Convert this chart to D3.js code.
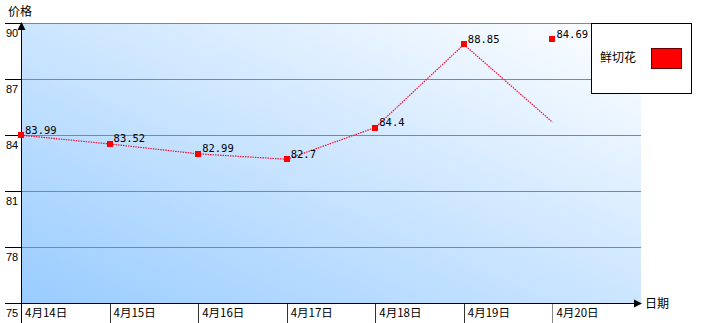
<!DOCTYPE html>
<html><head><meta charset="utf-8">
<script src="https://cdn.jsdelivr.net/npm/d3@7"></script>
<style>html,body{margin:0;padding:0;background:#fff;}svg{display:block;}</style>
</head><body>
<script>
const categories = ["4月14日","4月15日","4月16日","4月17日","4月18日","4月19日","4月20日"];
const values = [83.99, 83.52, 82.99, 82.7, 84.4, 88.85, 84.69];
// marker positions as drawn in the reference (last marker is displaced upward in the original)
const markerValues = [83.99, 83.52, 82.99, 82.7, 84.4, 88.85, 89.14];
const yTicks = [75, 78, 81, 84, 87, 90];
const seriesName = "鲜切花";
const yTitle = "价格", xTitle = "日期";

const W = 709, H = 323;
const L = 21, R = 641, T = 23, B = 303;
const svg = d3.select("body").append("svg").attr("width", W).attr("height", H);
const cjk = "'Noto Sans CJK SC', sans-serif";
const mono = "'DejaVu Sans Mono', monospace";

const x = d3.scaleBand().domain(categories).range([L, R]).padding(0);
const y = d3.scaleLinear().domain([75, 90]).range([B, T]);

const defs = svg.append("defs");
const g = defs.append("linearGradient").attr("id", "bg")
  .attr("x1", 0).attr("y1", 1).attr("x2", 1).attr("y2", 0);
g.append("stop").attr("offset", 0).attr("stop-color", "#99ccff");
g.append("stop").attr("offset", 1).attr("stop-color", "#ffffff");

svg.append("rect").attr("x", L).attr("y", T).attr("width", R - L).attr("height", B - T)
  .attr("fill", "url(#bg)");

// grid lines
svg.append("g").selectAll("line").data(yTicks.filter(v => v > 75)).join("line")
  .attr("x1", L).attr("x2", R).attr("y1", d => Math.round(y(d)) + 0.5).attr("y2", d => Math.round(y(d)) + 0.5)
  .attr("stroke", "#5b8fcc").attr("stroke-width", 1);

// y ticks + labels
const yt = svg.append("g");
yt.selectAll("line").data(yTicks).join("line")
  .attr("x1", 5).attr("x2", L).attr("y1", d => Math.round(y(d)) + 0.5).attr("y2", d => Math.round(y(d)) + 0.5)
  .attr("stroke", "#000");
yt.selectAll("text").data(yTicks).join("text")
  .attr("x", 6).attr("y", d => y(d) + 13.5)
  .attr("font-family", "'Liberation Sans', Arial, sans-serif").attr("font-size", 11).attr("fill", "#000")
  .text(d => d);

// x ticks + labels
const xt = svg.append("g");
xt.selectAll("line").data(categories.slice(1)).join("line")
  .attr("x1", d => Math.round(x(d)) + 0.5).attr("x2", d => Math.round(x(d)) + 0.5)
  .attr("y1", B).attr("y2", H)
  .attr("stroke", (d, i) => i === categories.length - 2 ? "#888" : "#333");
xt.selectAll("text").data(categories).join("text")
  .attr("x", d => x(d) + 4).attr("y", 317)
  .attr("font-family", cjk).attr("font-size", 11.5).attr("fill", "#000")
  .text(d => d);

// axes
svg.append("line").attr("x1", L + 0.5).attr("x2", L + 0.5).attr("y1", T + 3).attr("y2", H).attr("stroke", "#000");
svg.append("line").attr("x1", L).attr("x2", R - 5).attr("y1", B + 0.5).attr("y2", B + 0.5).attr("stroke", "#000");
svg.append("path").attr("d", `M${L + 0.5},${T - 1} L${L + 4.5},${T + 7} L${L - 3.5},${T + 7} Z`).attr("fill", "#000");
svg.append("path").attr("d", `M${R + 1},${B + 0.5} L${R - 7},${B - 3.5} L${R - 7},${B + 4.5} Z`).attr("fill", "#000");

svg.append("text").attr("x", 8).attr("y", 16).attr("font-family", cjk).attr("font-size", 12).text(yTitle);
svg.append("text").attr("x", 645).attr("y", 308).attr("font-family", cjk).attr("font-size", 12).text(xTitle);

// series line
const line = d3.line().x((d, i) => x(categories[i])).y(d => y(d));
svg.append("path").datum(values).attr("d", line)
  .attr("fill", "none").attr("stroke", "#ee1133").attr("stroke-width", 1.2)
  .attr("stroke-dasharray", "1.5,1");

// markers
svg.append("g").selectAll("rect").data(markerValues).join("rect")
  .attr("x", (d, i) => Math.round(x(categories[i])) - 3)
  .attr("y", d => Math.round(y(d)) - 3)
  .attr("width", 6).attr("height", 6).attr("fill", "#ff0000");

// value labels
svg.append("g").selectAll("text").data(values).join("text")
  .attr("x", (d, i) => x(categories[i]) + 4)
  .attr("y", (d, i) => y(markerValues[i]) - 1.5)
  .attr("font-family", mono).attr("font-size", 10.5).attr("fill", "#000")
  .text(d => d);

// legend
const lg = svg.append("g");
lg.append("rect").attr("x", 591.5).attr("y", 23.5).attr("width", 100).attr("height", 70)
  .attr("fill", "#fff").attr("stroke", "#000");
lg.append("text").attr("x", 600).attr("y", 62).attr("font-family", cjk).attr("font-size", 12).text(seriesName);
lg.append("rect").attr("x", 651.5).attr("y", 48.5).attr("width", 30).attr("height", 20)
  .attr("fill", "#ff0000").attr("stroke", "#600");
</script>
</body></html>
